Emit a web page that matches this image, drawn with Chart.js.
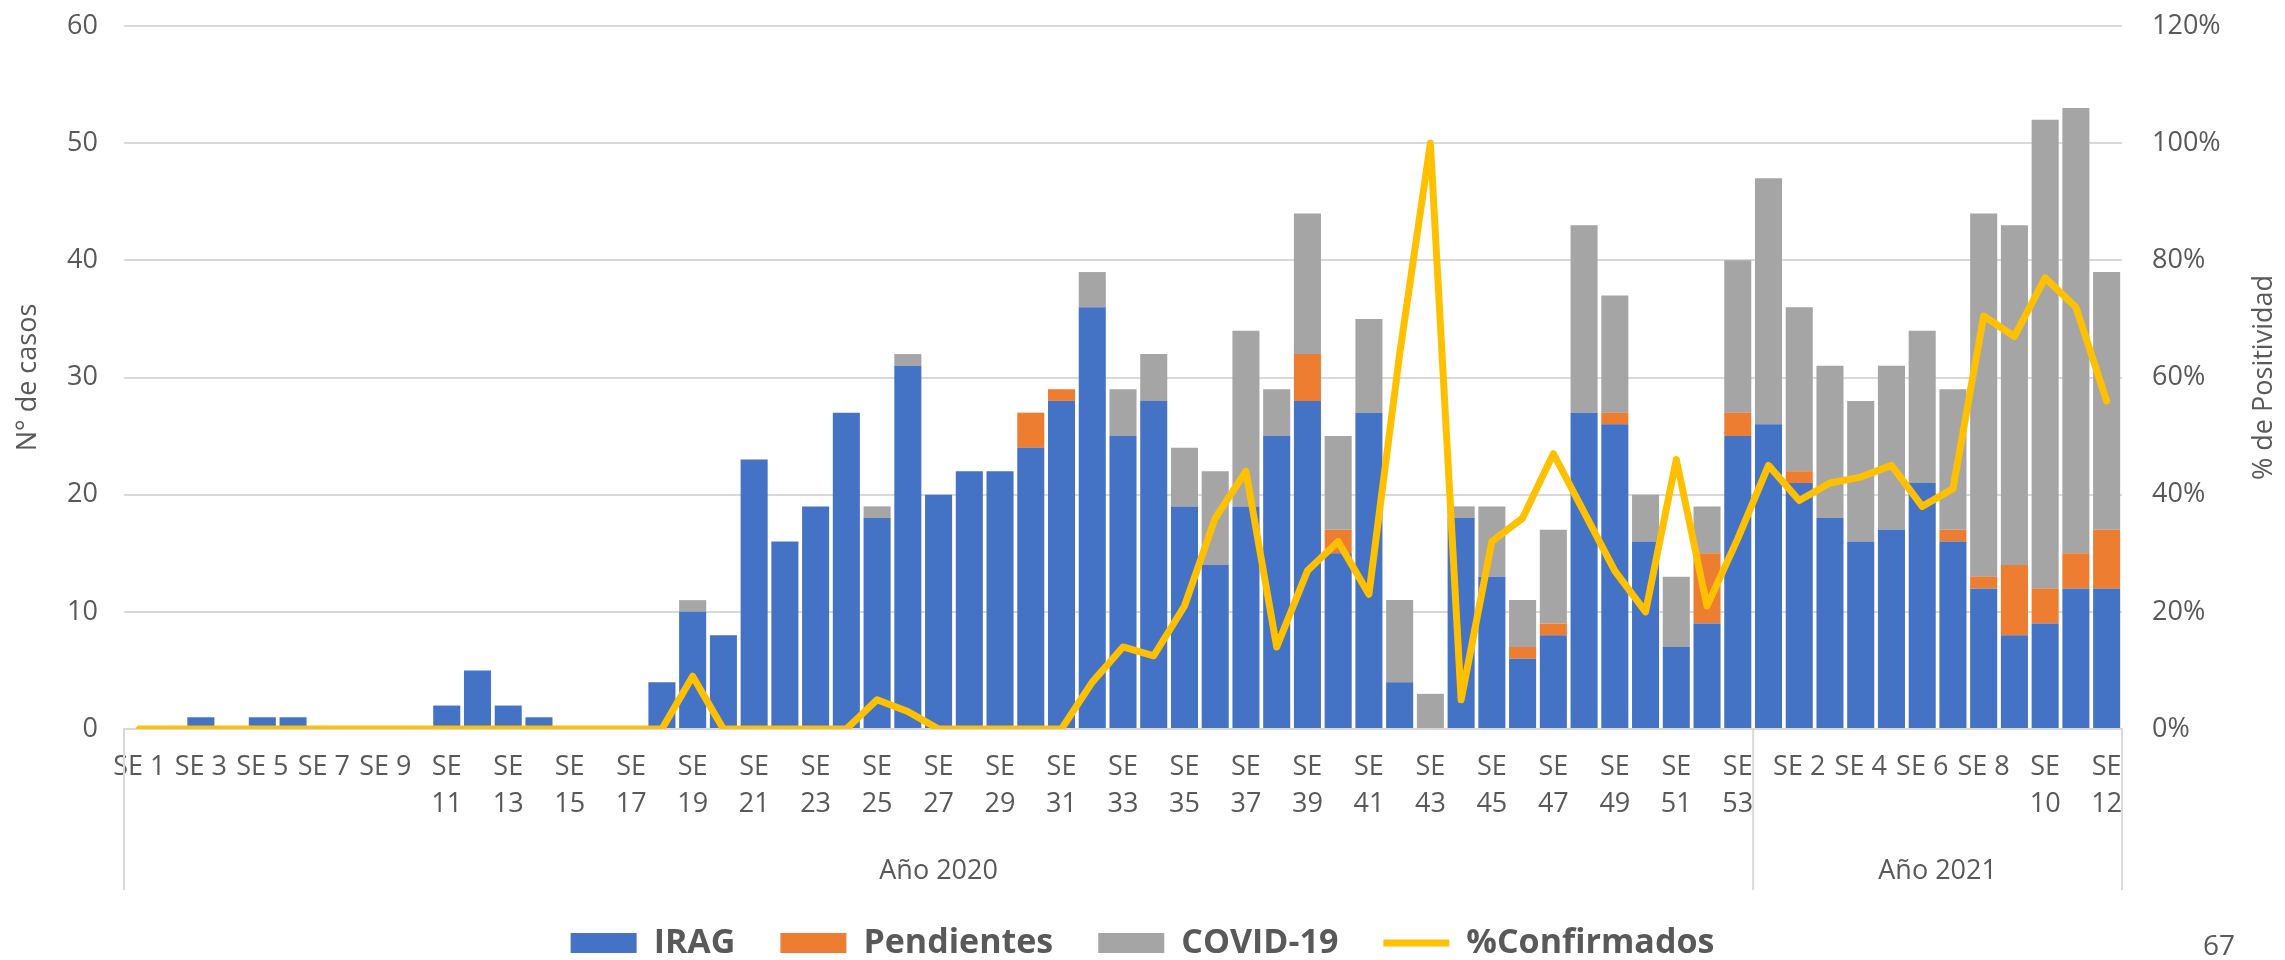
<!DOCTYPE html>
<html>
<head>
<meta charset="utf-8">
<script src="https://cdn.jsdelivr.net/npm/chart.js@4/dist/chart.umd.min.js"></script>
<style>
  html, body { margin: 0; padding: 0; background: #fff; }
  #wrap { position: relative; width: 2285px; height: 960px; }
  #pagina { position: absolute; left: 2203px; top: 925px; font: 28px "Open Sans", sans-serif; color: #595959; }
</style>
</head>
<body>
<div id="wrap">
  <canvas id="irag"></canvas>
  <div id="pagina">67</div>
</div>
<script>
// semanas epidemiologicas
const semanas2020 = [1,2,3,4,5,6,7,8,9,10,11,12,13,14,15,16,17,18,19,20,21,22,23,24,25,26,27,
                     28,29,30,31,32,33,34,35,36,37,38,39,40,41,42,43,44,45,46,47,48,49,50,51,52,53];
const semanas2021 = [1,2,3,4,5,6,7,8,9,10,11,12];
const grupos = ["Año 2020", "Año 2021"];

const irag = [0,0,1,0,1,1,0,0,0,0,2,5,2,1,0,0,0,4,10,8,23,16,19,27,18,31,20,
              22,22,24,28,36,25,28,19,14,19,25,28,15,27,4,0,18,13,6,8,27,26,16,7,9,25,
              26,21,18,16,17,21,16,12,8,9,12,12];
const pendientes = [0,0,0,0,0,0,0,0,0,0,0,0,0,0,0,0,0,0,0,0,0,0,0,0,0,0,0,
                    0,0,3,1,0,0,0,0,0,0,0,4,2,0,0,0,0,0,1,1,0,1,0,0,6,2,
                    0,1,0,0,0,0,1,1,6,3,3,5];
const covid = [0,0,0,0,0,0,0,0,0,0,0,0,0,0,0,0,0,0,1,0,0,0,0,0,1,1,0,
               0,0,0,0,3,4,4,5,8,15,4,12,8,8,7,3,1,6,4,8,16,10,4,6,4,13,
               21,14,13,12,14,13,12,31,29,40,38,22];
const confirmados = [0,0,0,0,0,0,0,0,0,0,0,0,0,0,0,0,0,0,9,0,0,0,0,0,5,3,0,
                     0,0,0,0,8,14,12.5,21,36,44,14,27,32,23,64,100,5,32,36,47,37,27,20,46,21,32.5,
                     45,39,42,43,45,38,41,70.5,67,77,72,56];

const gris = "#595959";
const fuente = "'Open Sans', sans-serif";

const etiquetas = semanas2020.concat(semanas2021).map(n => n < 10 ? "SE " + n : ["SE", String(n)]);
const tamGrupo = [semanas2020.length, semanas2021.length];

const gruposPlugin = {
  id: "grupos",
  afterLayout(chart) {
    // baja la leyenda hasta el borde inferior, como en el original
    const l = chart.legend;
    const f = l.options.labels.font.size;
    const d = (chart.height - 17) - (l.top + l.options.labels.padding + f / 2);
    l.top += d;
    l.bottom += d;
  },
  afterDraw(chart) {
    const ctx = chart.ctx;
    const x = chart.scales.x;
    const y0 = chart.chartArea.bottom;
    ctx.save();
    ctx.strokeStyle = "#D9D9D9";
    ctx.lineWidth = 2;
    let inicio = 0;
    const bordes = [x.getPixelForValue(-0.5)];
    tamGrupo.forEach(n => {
      bordes.push(x.getPixelForValue(inicio + n - 0.5));
      inicio += n;
    });
    bordes.forEach(px => {
      ctx.beginPath();
      ctx.moveTo(px, y0);
      ctx.lineTo(px, y0 + 161);
      ctx.stroke();
    });
    ctx.fillStyle = gris;
    ctx.font = "27px " + fuente;
    ctx.textAlign = "center";
    ctx.textBaseline = "middle";
    grupos.forEach((g, i) => {
      ctx.fillText(g, (bordes[i] + bordes[i + 1]) / 2, y0 + 142);
    });
    // titulo del eje derecho
    const y2 = chart.scales.y2;
    ctx.translate(y2.right - 21, (chart.chartArea.top + chart.chartArea.bottom) / 2);
    ctx.rotate(-Math.PI / 2);
    ctx.fillText("% de Positividad", 0, 0);
    ctx.restore();
  }
};

new Chart(document.getElementById("irag"), {
  type: "bar",
  data: {
    labels: etiquetas,
    datasets: [
      { label: "IRAG", data: irag, backgroundColor: "#4472C4", pointStyle: "rect", order: 1 },
      { label: "Pendientes", data: pendientes, backgroundColor: "#ED7D31", pointStyle: "rect", order: 1 },
      { label: "COVID-19", data: covid, backgroundColor: "#A5A5A5", pointStyle: "rect", order: 1 },
      {
        type: "line",
        label: "%Confirmados",
        data: confirmados,
        yAxisID: "y2",
        borderColor: "#FFC000",
        borderWidth: 7,
        borderJoinStyle: "round",
        borderCapStyle: "round",
        pointRadius: 0,
        pointHoverRadius: 0,
        pointStyle: "line",
        pointBorderColor: "#FFC000",
        pointBorderWidth: 7,
        tension: 0,
        order: 0
      }
    ]
  },
  options: {
    responsive: true,
    maintainAspectRatio: false,
    animation: false,
    layout: { padding: { top: 26, left: 0, right: 0, bottom: 0 } },
    datasets: { bar: { barPercentage: 0.88, categoryPercentage: 1.0 } },
    scales: {
      x: {
        stacked: true,
        grid: { display: false, drawTicks: false },
        border: { color: "#D9D9D9", width: 2 },
        ticks: {
          autoSkip: false,
          maxRotation: 0,
          padding: 20,
          color: gris,
          font: { family: fuente, size: 27, lineHeight: 1.37 },
          callback: function (v, i) { return i % 2 === 0 ? this.getLabelForValue(v) : null; }
        },
        afterFit: s => { s.height = 142; }
      },
      y: {
        stacked: true,
        min: 0, max: 60,
        ticks: { stepSize: 10, padding: 0, color: gris, font: { family: fuente, size: 27 } },
        grid: { color: "#D9D9D9", lineWidth: 2, drawTicks: true, tickLength: 26, tickColor: "rgba(0,0,0,0)" },
        border: { display: false },
        title: { display: true, text: "N° de casos", color: gris, font: { family: fuente, size: 27 }, padding: { top: 12 } },
        afterFit: s => { s.width = 124; }
      },
      y2: {
        position: "right",
        min: 0, max: 120,
        ticks: { stepSize: 20, padding: 0, color: gris, font: { family: fuente, size: 27 }, callback: v => v + "%" },
        grid: { display: false, drawTicks: true, tickLength: 30 },
        border: { display: false },
        afterFit: s => { s.width = 163; }
      }
    },
    plugins: {
      tooltip: { enabled: false },
      legend: {
        position: "bottom",
        labels: {
          usePointStyle: true,
          pointStyleWidth: 66,
          boxHeight: 20,
          padding: 45,
          color: gris,
          font: { family: fuente, size: 34, weight: "bold" },
          sort: (a, b) => a.datasetIndex - b.datasetIndex
        }
      }
    }
  },
  plugins: [gruposPlugin]
});
</script>
</body>
</html>
